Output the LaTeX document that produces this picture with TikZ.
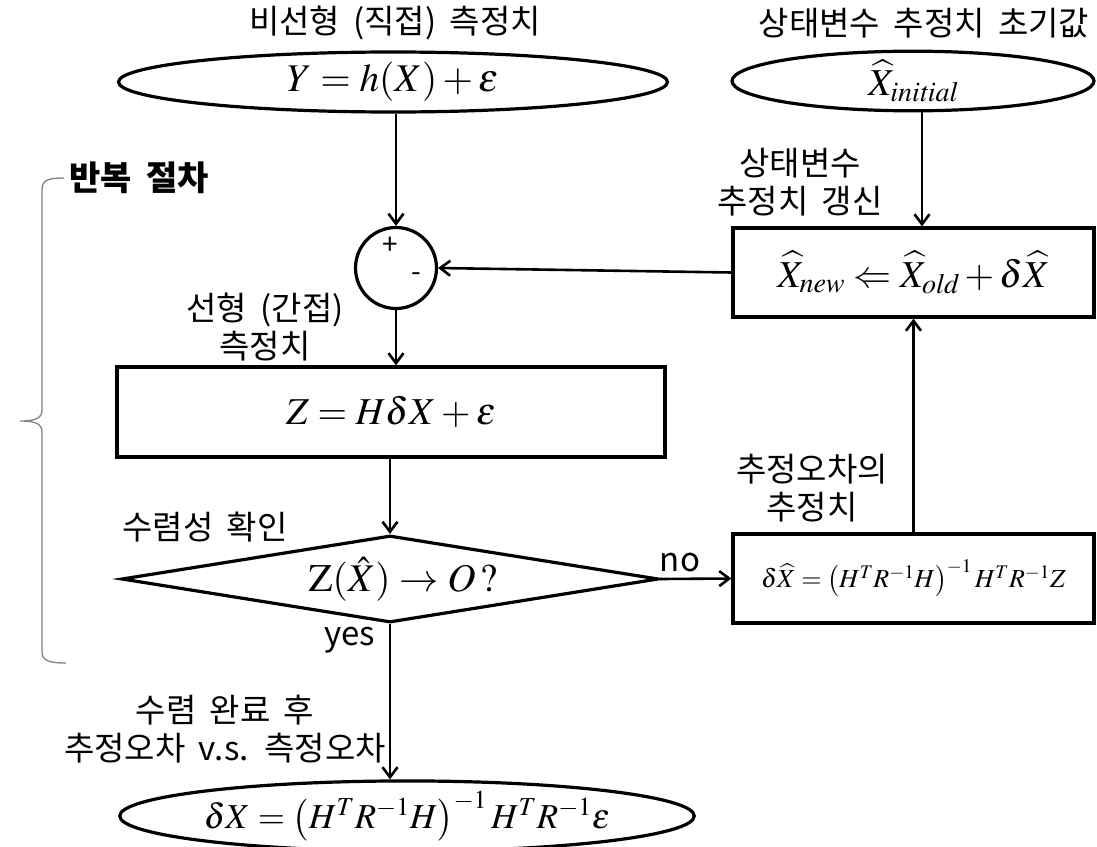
\documentclass[tikz,border=0pt]{standalone}
\usepackage{mathptmx}
\usepackage{graphicx}
\usepackage{fontspec}
\newfontfamily\kr{Noto Sans CJK KR}[WordSpace=1.8]
\usetikzlibrary{shapes.geometric,arrows.meta}
\tikzset{
  lab/.style={font=\kr\fontsize{33}{38}\selectfont, align=center, inner sep=0pt},
  shp/.style={draw, line width=3.2pt, inner sep=0pt},
  ell/.style={shp, ellipse},
  boxn/.style={shp, rectangle},
  conn/.style={line width=2.6pt, -{Straight Barb[length=10pt,width=15pt,line width=2.6pt]}},
  bigmath/.style={font=\fontsize{38}{44}\selectfont},
  eqmath/.style={font=\fontsize{35}{40}\selectfont},
  smallmath/.style={font=\fontsize{26}{32}\selectfont},
  pm/.style={font=\kr\fontsize{28}{28}\selectfont, inner sep=0pt},
}
\begin{document}
\begin{tikzpicture}[x=1pt,y=-1pt]
\useasboundingbox (0,0) rectangle (1097,846);
% labels
\node[lab] (l1) at (395,23) {비선형 (직접) 측정치};
\node[lab] (l2) at (924,23) {상태변수 추정치 초기값};
\node[lab] (l3) at (800,182) {상태변수\\추정치 갱신};
\node[lab] (l4) at (265,327) {선형 (간접)\\측정치};
\node[lab] (l5) at (205,527) {수렴성 확인};
\node[lab] (l6) at (680,563) {no};
\node[lab] (l7) at (350,640) {yes};
\node[lab] (l8) at (812,488) {추정오차의\\추정치};
\node[lab] (l9) at (225,729) {수렴 완료 후\\추정오차 v.s. 측정오차};
\node[lab, font=\kr\bfseries\fontsize{34}{38}\selectfont] (l10) at (139,178) {반복 절차};
% shapes
\node[ell, minimum width=549pt, minimum height=60pt, eqmath] (e1) at (393,82) {\scalebox{1.12}{$Y=h(X)+\varepsilon$}};
\node[ell, minimum width=362pt, minimum height=58pt, bigmath] (e2) at (913,81) {$\widehat{X}_{\mathit{initial}}$};
\node[shp, circle, minimum size=81pt] (c) at (396,268) {};
\node[pm] (cp) at (390,246) {+};
\node[pm] (cm) at (416,277) {-};
\node[boxn, minimum width=361pt, minimum height=89pt, bigmath] (upd) at (913.5,272.5) {$\widehat{X}_{\mathit{new}}\Leftarrow\widehat{X}_{\mathit{old}}+\delta\widehat{X}$};
\node[boxn, minimum width=548pt, minimum height=90pt, bigmath] (zb) at (391,412) {$Z=H\delta X+\varepsilon$};
\node[shp, diamond, aspect=6, minimum width=537pt, minimum height=87pt, eqmath] (d) at (390,579) {\hspace*{26pt}\scalebox{1.12}{$\mathrm{Z}(\hat{X})\rightarrow O\,\mathrm{?}$}};
\node[boxn, minimum width=361pt, minimum height=89pt, smallmath] (est) at (913.5,578.5) {$\delta\widehat{X}=\left(H^{T}R^{-1}H\right)^{-1}H^{T}R^{-1}Z$};
\node[ell, minimum width=515pt, minimum height=56pt, eqmath] (e3) at (407,816) {$\delta X=\left(H^{T}R^{-1}H\right)^{-1}H^{T}R^{-1}\varepsilon$};
% connectors
\draw[conn] (e1.south -| c.north) -- (c.north);
\draw[conn] (upd.west) -- (c.east);
\draw[conn] (c.south) -- (c.south |- zb.north);
\draw[conn] (zb.south -| d.north) -- (d.north);
\draw[conn] (d.east) -- (est.west);
\draw[conn] (est.north) -- (upd.south);
\draw[conn] (e2.south -| 922,0) -- (upd.north -| 922,0);
\draw[conn] (d.south) -- (d.south |- e3.north);
% brace
\draw[gray, line width=1.3pt] (64,178) .. controls (48,178) and (42,180) .. (42,190) -- (42,410) .. controls (42,418) and (36,421) .. (20,421) .. controls (36,421) and (42,424) .. (42,432) -- (42,652) .. controls (42,660) and (48,663) .. (66,663);
\end{tikzpicture}
\end{document}
